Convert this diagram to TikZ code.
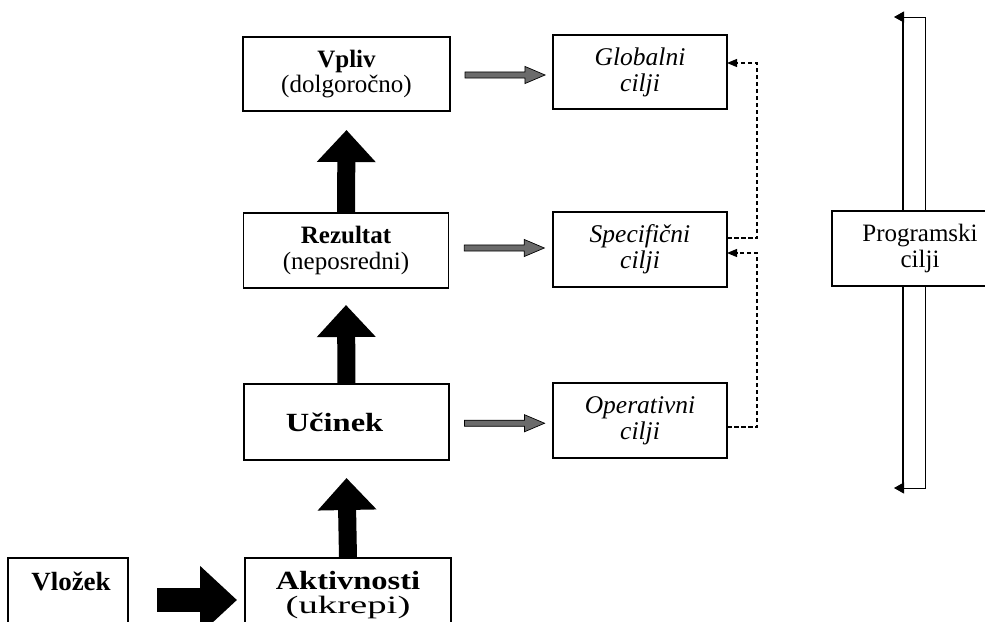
\documentclass[tikz,border=0pt]{standalone}
\usepackage{fontspec}
\setmainfont{Liberation Serif}
\usetikzlibrary{arrows.meta,calc,shapes.arrows}
\begin{document}
\begin{tikzpicture}[x=1pt,y=-1pt,
  box/.style={draw, line width=1.2pt, fill=white, inner sep=0pt, outer sep=0pt,
    align=center, font=\fontsize{25}{25.5}\selectfont},
  lbl/.style={inner sep=0pt, outer sep=0pt, font=\fontsize{25}{25.5}\selectfont},
  goal/.style={box, minimum width=174pt, minimum height=75pt, font=\fontsize{25.5}{26}\selectfont\itshape},
  stage/.style={box, minimum width=205pt, minimum height=75pt},
  blockup/.style={line width=18pt, -{Triangle[length=32pt,width=57pt]}},
  blockright/.style={line width=24pt, -{Triangle[length=37pt,width=66pt]}},
  grayarrow/.style={single arrow, draw, line width=0.7pt, fill=black!58,
    inner sep=2.7pt, minimum height=80pt, single arrow head extend=5.5pt,
    single arrow tip angle=46},
  dlink/.style={line width=1.1pt, dash pattern=on 4.5pt off 2.5pt,
    -{Triangle[length=10pt,width=8pt]}},
  bracketarrow/.style={line width=1pt, -{Triangle[length=10pt,width=11pt]}}
]
\useasboundingbox (0,0) rectangle (985,621);
\fill[white] (0,0) rectangle (985,621);

% results chain
\node[stage, minimum width=207pt, minimum height=74pt] (vpliv) at (346.5,74) {\textbf{Vpliv}\\(dolgoročno)};
\node[stage] (rez) at (346,250.5) {\textbf{Rezultat}\\(neposredni)};
\node[stage, minimum height=76pt] (ucinek) at (346.5,422)
  {\hspace*{-24pt}\scalebox{1.3}[1.05]{\textbf{Učinek}}};
\node[stage, minimum width=206pt, minimum height=74pt,
  font=\fontsize{25}{24}\selectfont] (akt) at (348,595)
  {\scalebox{1.3}[1.05]{\textbf{Aktivnosti}}\\\scalebox{1.55}[1]{(ukrepi)}};
\node[box, minimum width=120pt, minimum height=74pt] (vloz) at (68,595) {};
\node[lbl, anchor=base] (vlozt) at ($(vloz.north)+(3,32)$) {\scalebox{1.08}[1.05]{\textbf{Vložek}}};

% black block arrows
\draw[blockup] (rez.north) -- ($(vpliv.south)+(0,19)$);
\draw[blockup] (ucinek.north) -- ($(rez.south)+(0,17)$);
\draw[blockup] (akt.north) -- ($(ucinek.south)+(0,18)$);
\draw[blockright] ($(vloz.east)+(29,5)$) -- ($(akt.west)+(-8,5)$);

% objectives
\node[goal, minimum height=74pt] (glob) at (640,72) {Globalni\\cilji};
\node[goal] (spec) at (640,249.5) {Specifični\\cilji};
\node[goal] (oper) at (640,420.5) {Operativni\\cilji};

% hatched links from stages to objectives
\node[grayarrow] (g1) at ($(vpliv.east)!0.5!(glob.west)+(0,2)$) {};
\node[grayarrow] (g2) at ($(rez.east)!0.5!(spec.west)+(0,-2)$) {};
\node[grayarrow] (g3) at ($(ucinek.east)!0.5!(oper.west)+(0,2)$) {};

% dashed feedback between objectives
\draw[dlink] ($(spec.east)+(0,-11.5)$) -- ++(30,0) |- ($(glob.east)+(0,-9)$);
\draw[dlink] ($(oper.east)+(0,6.5)$) -- ++(30,0) |- ($(spec.east)+(0,3.5)$);

% programme objectives with bracket
\node[box, minimum width=176pt, minimum height=75pt] (prog) at (920,248.5) {Programski\\cilji};
\coordinate (bt) at (903,17);
\coordinate (bb) at (903,488);
\coordinate (ttip) at (894,17);
\coordinate (btip) at (894,488);
\draw[line width=2.2pt] (bt) -- (prog.north -| bt);
\draw[line width=2.2pt] (prog.south -| bt) -- (bb);
\draw[bracketarrow] ($(prog.north)+(5,0)$) |- (ttip);
\draw[bracketarrow] ($(prog.south)+(5,0)$) |- (btip);
\end{tikzpicture}
\end{document}
